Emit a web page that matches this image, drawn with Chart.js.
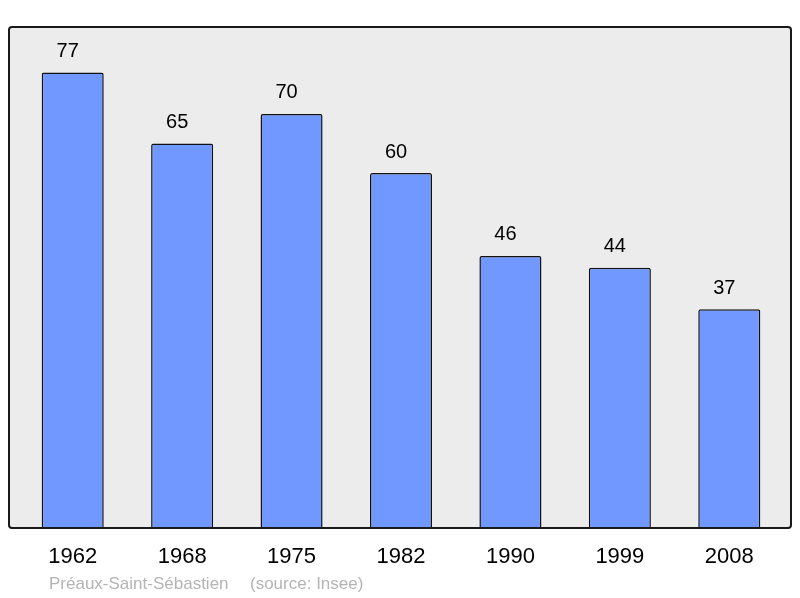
<!DOCTYPE html>
<html>
<head>
<meta charset="utf-8">
<script src="https://cdn.jsdelivr.net/npm/chart.js@4"></script>
<style>
  html, body { margin: 0; padding: 0; background: #fff; }
  #wrap { width: 800px; height: 598px; }
</style>
</head>
<body>
<div id="wrap"><canvas id="chart"></canvas></div>
<script>
// Population by census year
const years = ['1962', '1968', '1975', '1982', '1990', '1999', '2008'];
const population = [77, 65, 70, 60, 46, 44, 37];
const commune = 'Préaux-Saint-Sébastien';
const source = '(source: Insee)';

// Grey framed background behind the bars
const framePlugin = {
    id: 'frame',
    beforeDatasetsDraw(chart) {
        const ctx = chart.ctx;
        const a = chart.chartArea;
        ctx.save();
        ctx.beginPath();
        ctx.roundRect(9, a.top, 782, a.bottom - a.top, 3);
        ctx.fillStyle = '#ececec';
        ctx.fill();
        ctx.restore();
    },
    afterDatasetsDraw(chart) {
        const ctx = chart.ctx;
        const a = chart.chartArea;
        ctx.save();
        ctx.beginPath();
        ctx.roundRect(9, a.top, 782, a.bottom - a.top, 3);
        ctx.lineWidth = 2;
        ctx.strokeStyle = '#1a1a1a';
        ctx.stroke();

        // value labels above bars
        ctx.fillStyle = '#000';
        ctx.font = '20px "Liberation Sans", Arial, sans-serif';
        ctx.textAlign = 'center';
        ctx.textBaseline = 'middle';
        chart.getDatasetMeta(0).data.forEach((bar, i) => {
            ctx.fillText(population[i], bar.x - 5, bar.y - 21);
        });

        // footer
        ctx.fillStyle = '#b4b4b4';
        ctx.font = '17px "Liberation Sans", Arial, sans-serif';
        ctx.textAlign = 'left';
        ctx.fillText(commune, 49, 584);
        ctx.fillText(source, 250, 584);
        ctx.restore();
    }
};

new Chart(document.getElementById('chart'), {
    type: 'bar',
    data: {
        labels: years,
        datasets: [{
            data: population,
            backgroundColor: '#7098ff',
            borderColor: '#111',
            borderWidth: 1.5,
            borderRadius: 2,
            borderSkipped: 'bottom',
            barPercentage: 0.567,
            categoryPercentage: 1
        }]
    },
    options: {
        responsive: true,
        maintainAspectRatio: false,
        animation: false,
        layout: {
            padding: { left: 18, right: 16, top: 27, bottom: 0 }
        },
        plugins: {
            legend: { display: false },
            tooltip: { enabled: false }
        },
        scales: {
            x: {
                grid: { display: false, drawTicks: false },
                border: { display: false },
                ticks: {
                    color: '#000',
                    padding: 16,
                    font: { family: '"Liberation Sans", Arial, sans-serif', size: 22 }
                },
                afterFit(scale) { scale.height = 70; }
            },
            y: {
                display: false,
                min: 0,
                max: 84.7
            }
        }
    },
    plugins: [framePlugin]
});
</script>
</body>
</html>
